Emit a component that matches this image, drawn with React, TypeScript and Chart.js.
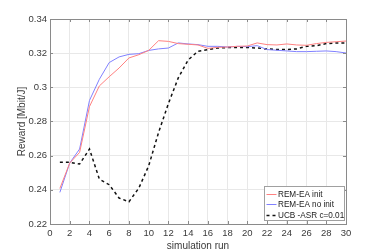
import React, { useEffect, useRef } from "react";
import { Chart, registerables } from "chart.js";

Chart.register(...registerables);

const runs = [1, 2, 3, 4, 5, 6, 7, 8, 9, 10, 11, 12, 13, 14, 15, 16, 17, 18, 19, 20, 21, 22, 23, 24, 25, 26, 27, 28, 29, 30];

const remInit = [0.2408, 0.2557, 0.2619, 0.2887, 0.3008, 0.3062, 0.3113, 0.3172, 0.3191, 0.3216, 0.3273, 0.3269, 0.3256, 0.3252, 0.3248, 0.3228, 0.3234, 0.3236, 0.324, 0.3242, 0.326, 0.325, 0.3248, 0.3254, 0.3248, 0.3246, 0.3256, 0.3263, 0.3267, 0.3271];
const remNoInit = [0.2385, 0.2557, 0.2639, 0.2923, 0.3047, 0.3145, 0.3178, 0.3193, 0.3197, 0.3216, 0.3225, 0.323, 0.326, 0.3254, 0.325, 0.324, 0.324, 0.3236, 0.324, 0.3238, 0.3244, 0.3221, 0.3217, 0.3213, 0.3209, 0.3209, 0.3211, 0.3213, 0.3209, 0.3201];
const ucbAsr = [0.2561, 0.2561, 0.2551, 0.2639, 0.2463, 0.243, 0.2352, 0.233, 0.241, 0.254, 0.2735, 0.2905, 0.3055, 0.316, 0.3211, 0.322, 0.323, 0.3233, 0.3233, 0.3233, 0.323, 0.3225, 0.3221, 0.3221, 0.3225, 0.324, 0.3244, 0.3256, 0.326, 0.326];

const seriesLabels = ["REM-EA init", "REM-EA no init", "UCB -ASR c=0.01"];

const xTicks = [0, 2, 4, 6, 8, 10, 12, 14, 16, 18, 20, 22, 24, 26, 28, 30];
const yTicks = [0.22, 0.24, 0.26, 0.28, 0.3, 0.32, 0.34];
const yTickLabels = ["0.22", "0.24", "0.26", "0.28", "0.3", "0.32", "0.34"];

const FONT = "'Liberation Sans', Arial, Helvetica, sans-serif";
const AXIS_COLOR = "#8a8a8a";
const TEXT_COLOR = "#3a3a3a";

const boxPlugin = {
  id: "matlabBox",
  afterDraw(chart: any) {
    const { ctx, chartArea, scales } = chart;
    const { left, right, top, bottom } = chartArea;
    ctx.save();
    ctx.strokeStyle = AXIS_COLOR;
    ctx.lineWidth = 1;
    const tl = 3;
    ctx.beginPath();
    xTicks.forEach((v) => {
      const px = Math.round(scales.x.getPixelForValue(v)) + 0.5;
      ctx.moveTo(px, bottom);
      ctx.lineTo(px, bottom - tl);
      ctx.moveTo(px, top);
      ctx.lineTo(px, top + tl);
    });
    yTicks.forEach((v) => {
      const py = Math.round(scales.y.getPixelForValue(v)) + 0.5;
      ctx.moveTo(left, py);
      ctx.lineTo(left + tl, py);
      ctx.moveTo(right, py);
      ctx.lineTo(right - tl, py);
    });
    ctx.stroke();
    ctx.strokeRect(Math.round(left) + 0.5, Math.round(top) + 0.5, Math.round(right - left), Math.round(bottom - top));

    // legend
    const lx = Math.round(right) - 82 + 0.5;
    const ly = Math.round(bottom) - 38 + 0.5;
    const lw = 80;
    const lh = 34;
    ctx.fillStyle = "#ffffff";
    ctx.fillRect(lx, ly, lw, lh);
    ctx.strokeStyle = "#a0a0a0";
    ctx.strokeRect(lx, ly, lw, lh);
    ctx.font = `8.2px ${FONT}`;
    ctx.textBaseline = "middle";
    ctx.textAlign = "left";
    chart.data.datasets.forEach((ds: any, i: number) => {
      const cy = Math.round(ly + 7 + i * 10.5) + 0.5;
      ctx.save();
      ctx.strokeStyle = ds.borderColor;
      ctx.lineWidth = ds.borderWidth;
      ctx.setLineDash(ds.borderDash || []);
      ctx.beginPath();
      ctx.moveTo(lx + 2, cy);
      ctx.lineTo(lx + 12, cy);
      ctx.stroke();
      ctx.restore();
      ctx.fillStyle = "#222222";
      ctx.fillText(ds.label, lx + 13.5, cy);
    });
    ctx.restore();
  },
};

export default function App() {
  const ref = useRef<HTMLCanvasElement | null>(null);
  useEffect(() => {
    if (!ref.current) return;
    const mk = (vals: number[]) => runs.map((r, i) => ({ x: r, y: vals[i] }));
    const chart = new Chart(ref.current, {
      type: "line",
      data: {
        datasets: [
          { label: seriesLabels[0], data: mk(remInit), borderColor: "#ff8080", borderWidth: 1, pointRadius: 0, fill: false, tension: 0 },
          { label: seriesLabels[1], data: mk(remNoInit), borderColor: "#8080ff", borderWidth: 1, pointRadius: 0, fill: false, tension: 0 },
          { label: seriesLabels[2], data: mk(ucbAsr), borderColor: "#111111", borderWidth: 1.5, borderDash: [3, 3], pointRadius: 0, fill: false, tension: 0 },
        ],
      },
      options: {
        responsive: false,
        animation: false,
        devicePixelRatio: 1,
        layout: { padding: { top: 19, right: 37, left: 0, bottom: 0 } },
        plugins: { legend: { display: false }, tooltip: { enabled: false } },
        scales: {
          x: {
            type: "linear",
            min: 0,
            max: 30,
            afterBuildTicks: (s: any) => {
              s.ticks = xTicks.map((v) => ({ value: v }));
            },
            afterFit: (s: any) => {
              s.height = 28;
            },
            ticks: {
              color: TEXT_COLOR,
              font: { family: FONT, size: 9.5 },
              padding: 4,
              maxRotation: 0,
              autoSkip: false,
              callback: (v: any) => String(v),
            },
            grid: { color: "#e8e8e8", drawTicks: false },
            border: { display: false },
            title: {
              display: true,
              text: "simulation run",
              color: TEXT_COLOR,
              font: { family: FONT, size: 10 },
              padding: { top: 0, bottom: 0 },
            },
          },
          y: {
            type: "linear",
            min: 0.22,
            max: 0.34,
            afterBuildTicks: (s: any) => {
              s.ticks = yTicks.map((v) => ({ value: v }));
            },
            afterFit: (s: any) => {
              s.width = 50;
            },
            ticks: {
              color: TEXT_COLOR,
              font: { family: FONT, size: 9.5 },
              padding: 3,
              autoSkip: false,
              callback: (_v: any, i: number) => yTickLabels[i],
            },
            grid: { color: "#e8e8e8", drawTicks: false },
            border: { display: false },
            title: {
              display: true,
              text: "Reward [Mbit/J]",
              color: TEXT_COLOR,
              font: { family: FONT, size: 10 },
              padding: { top: 16, bottom: 0 },
            },
          },
        },
      },
      plugins: [boxPlugin],
    } as any);
    return () => chart.destroy();
  }, []);
  return (
    <div style={{ position: "absolute", left: 0, top: 0, width: 383, height: 252, background: "#ffffff" }}>
      <canvas ref={ref} width={383} height={252} />
    </div>
  );
}
